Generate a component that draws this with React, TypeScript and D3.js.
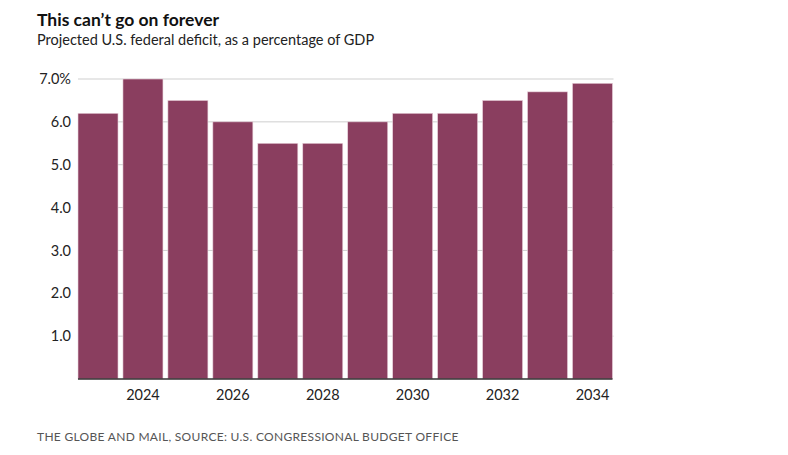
import React from "react";
import * as d3 from "d3";

const years = [2023, 2024, 2025, 2026, 2027, 2028, 2029, 2030, 2031, 2032, 2033, 2034];
const deficit = [6.2, 7.0, 6.5, 6.0, 5.5, 5.5, 6.0, 6.2, 6.2, 6.5, 6.7, 6.9];
const yTicks = [1, 2, 3, 4, 5, 6, 7];
const xTickYears = [2024, 2026, 2028, 2030, 2032, 2034];

const W = 788;
const H = 455;
const FONT = "Lato, 'Open Sans', sans-serif";
const BAR = "#8a3e5f";

const App: React.FC = () => {
  const left = 78;
  const right = 612.5;
  const top = 79;
  const bottom = 379;

  const x = d3
    .scaleBand<number>()
    .domain(years)
    .range([left, right])
    .paddingInner(0.11)
    .paddingOuter(0);

  const y = d3.scaleLinear().domain([0, 7]).range([bottom, top]);

  return (
    <svg
      width={W}
      height={H}
      style={{ position: "absolute", left: 0, top: 0, background: "#fff" }}
      fontFamily={FONT}
    >
      <text x={37} y={26} fontSize={17.5} fontWeight={700} fill="#111">
        This can’t go on forever
      </text>
      <text x={37} y={45} fontSize={14.5} fill="#222">
        Projected U.S. federal deficit, as a percentage of GDP
      </text>

      {/* gridlines sit behind the bars */}
      {yTicks.map((t) => (
        <line
          key={`g${t}`}
          x1={left}
          x2={right + 1}
          y1={y(t)}
          y2={y(t)}
          stroke="#cfcfcf"
          strokeWidth={1}
        />
      ))}
      {yTicks.map((t) => (
        <text
          key={`l${t}`}
          x={71}
          y={y(t)}
          dy="0.35em"
          textAnchor="end"
          fontSize={14.5}
          fill="#222"
        >
          {t === 7 ? "7.0%" : d3.format(".1f")(t)}
        </text>
      ))}

      {years.map((yr, i) => (
        <rect
          key={yr}
          x={x(yr)}
          y={y(deficit[i])}
          width={x.bandwidth()}
          height={bottom - y(deficit[i])}
          fill={BAR}
          stroke="#e9d3dc"
          strokeWidth={0.6}
        />
      ))}

      <line x1={left} x2={right} y1={bottom} y2={bottom} stroke="#333" strokeWidth={1.5} />

      {xTickYears.map((yr) => (
        <text
          key={`x${yr}`}
          x={(x(yr) as number) + x.bandwidth() / 2}
          y={400}
          textAnchor="middle"
          fontSize={14.5}
          fill="#222"
        >
          {yr}
        </text>
      ))}

      <text x={37} y={441} fontSize={12} letterSpacing={0.3} fill="#555">
        THE GLOBE AND MAIL, SOURCE: U.S. CONGRESSIONAL BUDGET OFFICE
      </text>
    </svg>
  );
};

export default App;
